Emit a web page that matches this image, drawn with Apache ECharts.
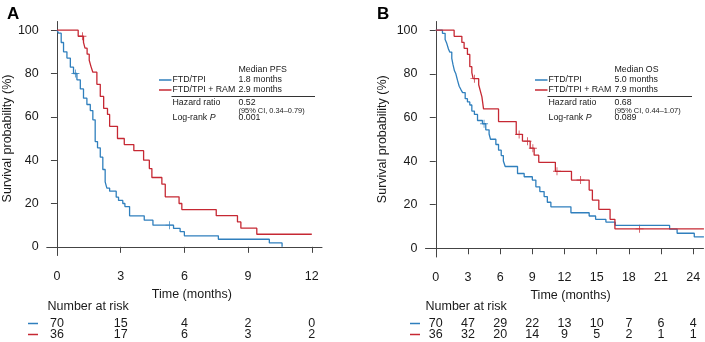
<!DOCTYPE html>
<html>
<head>
<meta charset="utf-8">
<script src="https://cdn.jsdelivr.net/npm/echarts@6/dist/echarts.min.js"></script>
<style>
  html, body { margin: 0; padding: 0; background: #fff; }
  #main { width: 705px; height: 342px; }
</style>
</head>
<body>
<div id="main"></div>
<script>
// ---- data ----
const yTicks = [0, 20, 40, 60, 80, 100];
const ticksA = [0, 3, 6, 9, 12];
const ticksB = [0, 3, 6, 9, 12, 15, 18, 21, 24];

const riskA_ftd = [70, 15, 4, 2, 0];
const riskA_ram = [36, 17, 6, 3, 2];
const riskB_ftd = [70, 47, 29, 22, 13, 10, 7, 6, 4];
const riskB_ram = [36, 32, 20, 14, 9, 5, 2, 1, 1];

// PFS (panel A), [months, survival %]
const pfsFtd = [[0, 100], [0.08, 98.6], [0.2, 94.3], [0.31, 90], [0.47, 87.1], [0.63, 82.9], [0.78, 80],
  [0.94, 77.1], [1.1, 72.9], [1.25, 68.6], [1.41, 65.7], [1.57, 62.9], [1.69, 58.6], [1.8, 48.6],
  [1.91, 45.7], [2.04, 41.4], [2.16, 35.7], [2.27, 30], [2.35, 27.1], [2.48, 25.7], [2.79, 22.9],
  [2.9, 21.4], [3.1, 20], [3.2, 18.6], [3.42, 14.3], [4.11, 12.3], [4.52, 10], [5.49, 8.5],
  [5.8, 7], [6.0, 5.1], [7.6, 3.5], [10.0, 1.8], [10.6, 0]];
const pfsRam = [[0, 100], [1.0, 97.2], [1.25, 94.4], [1.32, 91.7], [1.42, 88.9], [1.52, 86.1], [1.6, 83.3],
  [1.69, 80.6], [1.88, 75], [2.04, 69.4], [2.2, 63.9], [2.38, 61.1], [2.48, 55.6], [2.85, 50],
  [3.17, 47.2], [3.62, 44.4], [4.08, 40], [4.35, 36.1], [4.47, 32], [4.94, 28.9], [5.1, 23.1],
  [5.75, 20], [5.88, 17.2], [7.5, 14.4], [8.5, 11.5], [8.66, 8.6], [9.41, 5.8], [12.0, 5.8]];
const pfsFtdCens = [[0.87, 80], [5.3, 10]];
const pfsRamCens = [[1.2, 97.2]];

// OS (panel B)
const osFtd = [[0, 100], [0.62, 98.6], [0.87, 95.7], [1.0, 94.3], [1.18, 91.4], [1.3, 90], [1.49, 87.1],
  [1.6, 84.3], [1.74, 81.4], [1.87, 80], [2.02, 77.1], [2.18, 74.3], [2.33, 72.9], [2.5, 71.4],
  [2.74, 68.6], [2.95, 67.1], [3.17, 65.7], [3.36, 62.9], [3.6, 61.4], [3.89, 58.6], [4.35, 57.1],
  [4.66, 54.3], [4.97, 52.4], [5.1, 50], [5.6, 47.6], [5.85, 45], [6.1, 42.5], [6.3, 40],
  [6.47, 37.5], [7.62, 34.3], [8.24, 32.8], [9.0, 31.3], [9.33, 28.2], [9.7, 26], [10.1, 23.7],
  [10.4, 21.1], [10.73, 19], [12.6, 16.3], [14.3, 14.8], [14.9, 13.3], [15.86, 12], [16.73, 10.5],
  [21.8, 8.8], [22.5, 6.9], [24.1, 5.2], [25.0, 5.2]];
const osRam = [[0, 100], [1.71, 97.2], [2.43, 94.4], [2.64, 91.7], [2.95, 88.9], [3.17, 83.3],
  [3.36, 80.6], [3.48, 77.8], [4.0, 75], [4.15, 72.2], [4.3, 69.4], [4.45, 63.9], [5.85, 58.1],
  [7.5, 52.2], [8.08, 49.1], [8.8, 45.9], [9.17, 42.7], [9.6, 39.4], [11.15, 35.3], [12.65, 31.3],
  [14.3, 26.7], [14.6, 22.1], [15.2, 17.8], [16.25, 13.3], [16.7, 8.9], [25.0, 8.9]];
const osFtdCens = [[4.5, 57.1]];
const osRamCens = [[3.6, 77.8], [7.77, 52.2], [8.55, 49.1], [9.05, 45.9], [11.3, 35.3], [13.5, 31.3], [19.0, 8.9]];

const BLUE = '#2f7fbd';
const RED = '#c62833';
const AXIS = '#444';
const TXT = '#1a1a1a';
const FONT = 'Liberation Sans, Arial, sans-serif';
const CROSS = 'path://M4,0h1v4h4v1h-4v4h-1v-4h-4v-1h4z';

const chart = echarts.init(document.getElementById('main'));

function mainX(grid, min, max, ticks, padLeft) {
  return {
    type: 'value', gridIndex: grid, min: min, max: max,
    name: 'Time (months)', nameLocation: 'middle', nameGap: 32,
    nameTextStyle: { color: TXT, fontSize: 12.5, fontFamily: FONT, padding: [0, 0, 0, padLeft] },
    axisLine: { show: true, lineStyle: { color: AXIS, width: 1 } },
    axisTick: { show: true, length: 6, lineStyle: { color: AXIS }, customValues: ticks },
    axisLabel: { color: TXT, fontSize: 12.5, fontFamily: FONT, margin: 21, verticalAlign: 'middle', customValues: ticks },
    splitLine: { show: false }
  };
}
function riskX(grid, min, max, ticks, risk, offset) {
  return {
    type: 'value', gridIndex: grid, min: min, max: max, position: 'bottom', offset: offset,
    axisLine: { show: false }, axisTick: { show: false }, splitLine: { show: false },
    axisLabel: {
      color: TXT, fontSize: 12.5, fontFamily: FONT, margin: 0, verticalAlign: 'middle',
      customValues: ticks, formatter: v => String(risk[ticks.indexOf(v)])
    }
  };
}
function mainY(grid, gap) {
  return {
    type: 'value', gridIndex: grid, min: -4, max: 104,
    name: 'Survival probability (%)', nameLocation: 'middle', nameGap: gap,
    nameTextStyle: { color: TXT, fontSize: 12.5, fontFamily: FONT },
    axisLine: { show: true, lineStyle: { color: AXIS, width: 1 } },
    axisTick: { show: true, length: 6, lineStyle: { color: AXIS }, customValues: yTicks },
    axisLabel: { color: TXT, fontSize: 12.5, fontFamily: FONT, margin: 8, customValues: yTicks },
    splitLine: { show: false }
  };
}
function km(xi, yi, data, color) {
  return { type: 'line', xAxisIndex: xi, yAxisIndex: yi, data: data, step: 'end', symbol: 'none',
    lineStyle: { color: color, width: 1.3 }, silent: true, animation: false };
}
function cens(xi, yi, data, color) {
  return { type: 'scatter', xAxisIndex: xi, yAxisIndex: yi, data: data, symbol: CROSS, symbolSize: 8,
    itemStyle: { color: color }, silent: true, animation: false };
}

function legendBlock(x0, lineX, ruleEnd, label, m1, m2, hr, ci, p) {
  const t = (text, x, y, size, extra) => Object.assign({
    type: 'text', x: x, y: y,
    style: { text: text, fill: TXT, font: size + 'px ' + FONT, verticalAlign: 'middle' }
  }, extra || {});
  const col2 = x0 + 66;
  return [
    t(label, col2, 70, 8.8),
    t('FTD/TPI', x0, 80, 8.8), t(m1, col2, 80, 8.8),
    t('FTD/TPI + RAM', x0, 90, 8.8), t(m2, col2, 90, 8.8),
    { type: 'line', shape: { x1: lineX, y1: 80, x2: x0 - 1, y2: 80 }, style: { stroke: BLUE, lineWidth: 1.5 } },
    { type: 'line', shape: { x1: lineX, y1: 90, x2: x0 - 1, y2: 90 }, style: { stroke: RED, lineWidth: 1.5 } },
    { type: 'line', shape: { x1: x0 - 1, y1: 96.5, x2: ruleEnd, y2: 96.5 }, style: { stroke: '#333', lineWidth: 1 } },
    t('Hazard ratio', x0, 102.5, 8.8), t(hr, col2, 102.5, 8.8),
    t(ci, col2, 110.8, 7.4),
    {
      type: 'text', x: x0, y: 117.5,
      style: {
        text: '{a|Log-rank }{b|P}', verticalAlign: 'middle',
        rich: {
          a: { fill: TXT, fontSize: 8.8, fontFamily: FONT },
          b: { fill: TXT, fontSize: 8.8, fontFamily: FONT, fontStyle: 'italic' }
        }
      }
    },
    t(p, col2, 117.5, 8.8)
  ];
}

function riskLabels(x, dashX) {
  return [
    { type: 'text', x: x, y: 306.5, style: { text: 'Number at risk', fill: TXT, font: '12.5px ' + FONT, verticalAlign: 'middle' } },
    { type: 'line', shape: { x1: dashX, y1: 323.5, x2: dashX + 10, y2: 323.5 }, style: { stroke: BLUE, lineWidth: 1.5 } },
    { type: 'line', shape: { x1: dashX, y1: 334.5, x2: dashX + 10, y2: 334.5 }, style: { stroke: RED, lineWidth: 1.5 } }
  ];
}

const option = {
  animation: false,
  grid: [
    { left: 46.5, top: 21.5, width: 275.5, height: 234 },
    { left: 425.5, top: 21.5, width: 278, height: 235.5 }
  ],
  xAxis: [
    mainX(0, -0.48, 12.48, ticksA, 15),
    riskX(0, -0.48, 12.48, ticksA, riskA_ftd, 68),
    riskX(0, -0.48, 12.48, ticksA, riskA_ram, 79),
    mainX(1, -0.96, 24.96, ticksB, 12),
    riskX(1, -0.96, 24.96, ticksB, riskB_ftd, 67),
    riskX(1, -0.96, 24.96, ticksB, riskB_ram, 78)
  ],
  yAxis: [mainY(0, 29), mainY(1, 36)],
  series: [
    km(0, 0, pfsFtd, BLUE), km(0, 0, pfsRam, RED),
    cens(0, 0, pfsFtdCens, BLUE), cens(0, 0, pfsRamCens, RED),
    km(3, 1, osFtd, BLUE), km(3, 1, osRam, RED),
    cens(3, 1, osFtdCens, BLUE), cens(3, 1, osRamCens, RED)
  ],
  graphic: [].concat(
    [
      { type: 'text', x: 7, y: 6, style: { text: 'A', fill: '#000', font: 'bold 17px ' + FONT } },
      { type: 'text', x: 377, y: 6, style: { text: 'B', fill: '#000', font: 'bold 17px ' + FONT } }
    ],
    legendBlock(172.5, 159, 315, 'Median PFS', '1.8 months', '2.9 months', '0.52', '(95% CI, 0.34\u20130.79)', '0.001'),
    legendBlock(548.5, 535, 692, 'Median OS', '5.0 months', '7.9 months', '0.68', '(95% CI, 0.44\u20131.07)', '0.089'),
    riskLabels(47.5, 28),
    riskLabels(425.5, 410)
  )
};
chart.setOption(option);
</script>
</body>
</html>
